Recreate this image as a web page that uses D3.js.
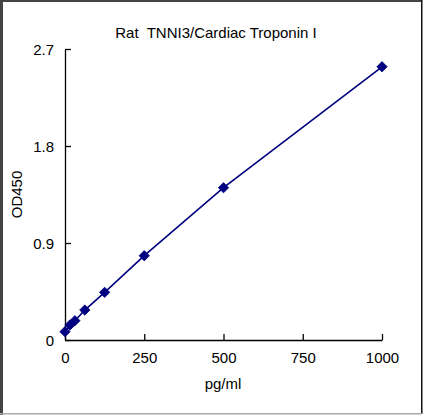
<!DOCTYPE html>
<html>
<head>
<meta charset="utf-8">
<script src="https://cdn.jsdelivr.net/npm/d3@7"></script>
<style>
  body { margin: 0; background: #fff; }
  svg { display: block; font-family: "Liberation Sans", Arial, sans-serif; }
</style>
</head>
<body>
<div id="chart"></div>
<script>
// standard curve readings
const concentrations = [0, 15.6, 31.25, 62.5, 125, 250, 500, 1000];
const odValues = [0.077, 0.139, 0.179, 0.278, 0.442, 0.782, 1.413, 2.535];
const xTicks = [0, 250, 500, 750, 1000];
const yTicks = [0, 0.9, 1.8, 2.7];

const width = 425, height = 416;
const margin = { top: 49, right: 43, bottom: 76, left: 65 };

const svg = d3.select("#chart").append("svg")
    .attr("width", width)
    .attr("height", height);

// outer frame
svg.append("rect").attr("x", 0).attr("y", 0).attr("width", 3).attr("height", 415).attr("fill", "#444");
svg.append("rect").attr("x", 0).attr("y", 0).attr("width", 422).attr("height", 2).attr("fill", "#444");
svg.append("rect").attr("x", 421).attr("y", 0).attr("width", 1.5).attr("height", 414).attr("fill", "#111");
svg.append("rect").attr("x", 0).attr("y", 413).attr("width", 422).attr("height", 1.5).attr("fill", "#aaa");

const x = d3.scaleLinear().domain([0, 1000]).range([margin.left, width - margin.right]);
const y = d3.scaleLinear().domain([0, 2.7]).range([height - margin.bottom, margin.top]);

const xAxis = svg.append("g")
    .attr("transform", `translate(0,${y(0)})`)
    .call(d3.axisBottom(x).tickValues(xTicks).tickSize(-6).tickPadding(12)
        .tickFormat(d3.format("d")).tickSizeOuter(0));

const yAxis = svg.append("g")
    .attr("transform", `translate(${x(0)},0)`)
    .call(d3.axisLeft(y).tickValues(yTicks).tickSize(-6).tickPadding(11)
        .tickFormat(d => d === 0 ? "0" : d3.format(".1f")(d)).tickSizeOuter(0));

[xAxis, yAxis].forEach(g => {
    g.select(".domain").attr("stroke", "#000").attr("stroke-width", 1.3);
    g.selectAll(".tick line").attr("stroke", "#000").attr("stroke-width", 1.3);
    g.selectAll(".tick text").attr("fill", "#000").attr("font-size", 15)
        .attr("font-family", "Liberation Sans, Arial, sans-serif");
});
yAxis.selectAll(".tick text").attr("dy", "0.35em");

const line = d3.line().x(d => x(d[0])).y(d => y(d[1]));
const points = concentrations.map((c, i) => [c, odValues[i]]);

svg.append("path")
    .datum(points)
    .attr("d", line)
    .attr("fill", "none")
    .attr("stroke", "#000080")
    .attr("stroke-width", 1.6);

svg.selectAll(".marker")
    .data(points)
    .enter().append("path")
    .attr("class", "marker")
    .attr("d", d3.symbol().type(d3.symbolDiamond2).size(68))
    .attr("transform", d => `translate(${x(d[0])},${y(d[1])})`)
    .attr("fill", "#000080")
    .attr("stroke", "#000080")
    .attr("stroke-width", 0.8);

svg.append("text")
    .attr("x", 216)
    .attr("y", 38)
    .attr("text-anchor", "middle")
    .attr("font-size", 15)
    .attr("xml:space", "preserve")
    .style("white-space", "pre")
    .text("Rat  TNNI3/Cardiac Troponin I");

svg.append("text")
    .attr("x", 223)
    .attr("y", 389)
    .attr("text-anchor", "middle")
    .attr("font-size", 15)
    .text("pg/ml");

svg.append("text")
    .attr("transform", `translate(22,${(y(0) + y(2.7)) / 2}) rotate(-90)`)
    .attr("text-anchor", "middle")
    .attr("font-size", 15)
    .text("OD450");
</script>
</body>
</html>
